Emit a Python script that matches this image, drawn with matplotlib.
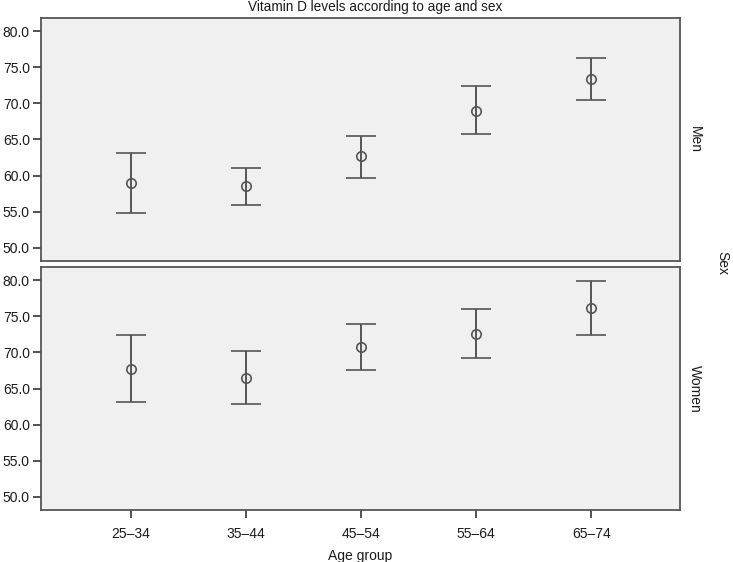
import numpy as np
import matplotlib
matplotlib.use('Agg')
import matplotlib.pyplot as plt

plt.rcParams['font.family'] = ['Liberation Sans', 'DejaVu Sans']

# age groups on the x axis
age_groups = ['25–34', '35–44', '45–54', '55–64', '65–74']

# mean vitamin D and the error bar ends, men
men_mean = [59.0, 58.6, 62.7, 69.0, 73.4]
men_low = [54.8, 56.0, 59.7, 65.7, 70.5]
men_high = [63.2, 61.1, 65.5, 72.4, 76.3]

# same for women
women_mean = [67.7, 66.5, 70.7, 72.6, 76.2]
women_low = [63.2, 62.9, 67.5, 69.2, 72.4]
women_high = [72.4, 70.2, 73.9, 76.0, 79.9]

y_ticks = [50.0, 55.0, 60.0, 65.0, 70.0, 75.0, 80.0]

fig = plt.figure(figsize=(7.33, 5.62), dpi=100)
ax_men = fig.add_axes([0.0559, 0.5356, 0.8718, 0.4324])
ax_women = fig.add_axes([0.0559, 0.0925, 0.8718, 0.4324])

line_col = '#555555'
txt_col = '#1a1a1a'
fs = 10
x = np.arange(len(age_groups))

panels = [(ax_men, men_mean, men_low, men_high, 'Men'),
          (ax_women, women_mean, women_low, women_high, 'Women')]

for ax, mean, low, high, label in panels:
    mean = np.array(mean)
    err = [mean - np.array(low), np.array(high) - mean]
    ax.set_facecolor('#f0f0f0')
    ax.errorbar(x, mean, yerr=err, fmt='o', color=line_col, ecolor=line_col,
                mfc='none', mec=line_col, markersize=6.8, mew=1.2,
                elinewidth=1.4, capsize=10.5, capthick=1.4)
    ax.set_xlim(-0.78, 4.77)
    ax.set_ylim(48.2, 81.8)
    ax.set_yticks(y_ticks)
    ax.set_yticklabels([f'{v:.1f}' for v in y_ticks])
    ax.tick_params(axis='y', length=6, width=1.3, color='#444444',
                   labelsize=fs, labelcolor=txt_col, pad=2)
    for s in ax.spines.values():
        s.set_color('#555555')
        s.set_linewidth(1.3)
    ax.text(1.012, 0.5, label, transform=ax.transAxes, rotation=-90,
            ha='left', va='center', fontsize=fs, color=txt_col)

ax_men.set_xticks([])
ax_women.set_xticks(x)
ax_women.set_xticklabels(age_groups)
ax_women.tick_params(axis='x', length=6, width=1.3, color='#444444',
                     labelsize=fs, labelcolor=txt_col, pad=6)
ax_women.set_xlabel('Age group', fontsize=fs, color=txt_col, labelpad=6)

fig.text(0.512, 0.988, 'Vitamin D levels according to age and sex',
         ha='center', va='center', fontsize=9.8, color=txt_col)
fig.text(0.985, 0.532, 'Sex', rotation=-90, ha='center', va='center',
         fontsize=fs, color=txt_col)

fig.savefig('out.png', dpi=100)
